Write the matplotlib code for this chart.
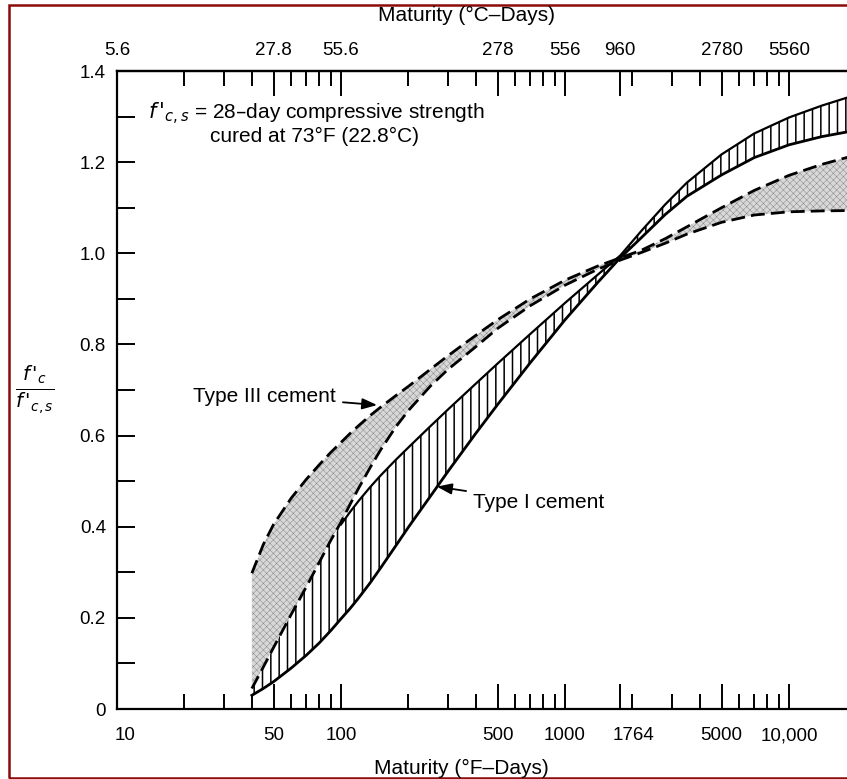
import numpy as np
import matplotlib
matplotlib.use("Agg")
import matplotlib.pyplot as plt
from matplotlib.patches import Rectangle
from matplotlib.ticker import NullFormatter
from matplotlib.transforms import ScaledTranslation

plt.rcParams['font.family'] = ['Liberation Sans', 'DejaVu Sans']
plt.rcParams['mathtext.fontset'] = 'dejavusans'

# ---------------- data ----------------
maturity_f = [40, 45, 50, 60, 70, 80, 90, 100, 110, 120, 135, 150, 175, 200, 250, 300, 400,
              500, 700, 1000, 1400, 1764, 2200, 2800, 3500, 5000, 7000, 10000, 14000, 20000]
# Type III cement band (dashed bounds)
type3_upper = [0.298, 0.361, 0.405, 0.463, 0.504, 0.536, 0.563, 0.585, 0.605, 0.622, 0.644,
               0.662, 0.687, 0.708, 0.745, 0.775, 0.82, 0.854, 0.90, 0.941, 0.972, 0.99,
               1.007, 1.032, 1.058, 1.10, 1.138, 1.171, 1.195, 1.216]
type3_lower = [0.045, 0.092, 0.135, 0.208, 0.268, 0.322, 0.37, 0.41, 0.45, 0.485, 0.53, 0.568,
               0.618, 0.655, 0.708, 0.745, 0.795, 0.835, 0.885, 0.93, 0.965, 0.985, 1.002,
               1.022, 1.042, 1.068, 1.084, 1.091, 1.093, 1.094]
# Type I cement band (hatched)
type1_upper = [0.045, 0.092, 0.135, 0.208, 0.268, 0.322, 0.37, 0.405, 0.433, 0.457, 0.487,
               0.512, 0.546, 0.574, 0.62, 0.657, 0.714, 0.758, 0.823, 0.891, 0.953, 0.995,
               1.05, 1.107, 1.155, 1.217, 1.263, 1.298, 1.324, 1.348]
type1_lower = [0.03, 0.045, 0.06, 0.09, 0.118, 0.145, 0.172, 0.198, 0.221, 0.244, 0.277,
               0.309, 0.357, 0.399, 0.466, 0.521, 0.605, 0.668, 0.76, 0.854, 0.936, 0.99,
               1.035, 1.085, 1.125, 1.172, 1.21, 1.238, 1.256, 1.27]
type1_upper_start = 7   # index where the Type I upper bound leaves the Type III lower bound

f_major = [10, 50, 100, 500, 1000, 1764, 5000, 10000]
f_major_labels = ['10', '50', '100', '500', '1000', '1764', '5000', '10,000']
f_minor = [20, 30, 40, 60, 70, 80, 90, 200, 300, 400, 600, 700, 800, 900,
           2000, 3000, 4000, 6000, 7000, 8000, 9000]
top_major = [10, 50, 100, 500, 1000, 1764, 5000, 10000]
top_labels = ['5.6', '27.8', '55.6', '278', '556', '960', '2780', '5560']
y_major = [0, 0.2, 0.4, 0.6, 0.8, 1.0, 1.2, 1.4]
y_labels = ['0', '0.2', '0.4', '0.6', '0.8', '1.0', '1.2', '1.4']
y_minor = [0.1, 0.3, 0.5, 0.7, 0.9, 1.1, 1.3]

# ---------------- figure ----------------
W, H = 847, 779
fig = plt.figure(figsize=(W / 100, H / 100), dpi=100)
ax = fig.add_axes([117 / W, 70 / H, 730 / W, 638 / H])
ax.set_xscale('log')
xmax = 10 ** (1 + 730 / 224)
ax.set_xlim(10, xmax)
ax.set_ylim(0, 1.4)

x = np.array(maturity_f, dtype=float)
a = np.array(type3_upper)
b = np.array(type3_lower)
c = np.array(type1_upper)
d = np.array(type1_lower)

# Type III stipple band
f3 = ax.fill_between(x, b, a, facecolor='#d8d8d8', edgecolor='#8a8a8a', linewidth=0,
                     hatch='xxxxx', zorder=1)
if hasattr(f3, 'set_hatch_linewidth'):
    f3.set_hatch_linewidth(0.35)
# Type I hatched band
f1 = ax.fill_between(x, d, c, facecolor='white', edgecolor='black', linewidth=0,
                     hatch='||', zorder=2)
if hasattr(f1, 'set_hatch_linewidth'):
    f1.set_hatch_linewidth(1.1)

ax.plot(x, d, color='black', lw=2.0, zorder=4)
ax.plot(x[type1_upper_start:], c[type1_upper_start:], color='black', lw=1.6, zorder=4)
ax.plot(x, a, color='black', lw=2.0, ls=(0, (5, 2.2)), zorder=5)
ax.plot(x, b, color='black', lw=2.0, ls=(0, (5, 2.2)), zorder=5)

# spines
for s in ['left', 'bottom', 'top']:
    ax.spines[s].set_linewidth(1.6)
ax.spines['right'].set_visible(False)

# ticks bottom
ax.set_xticks(f_major)
ax.set_xticklabels(f_major_labels)
ax.set_xticks(f_minor, minor=True)
ax.xaxis.set_minor_formatter(NullFormatter())
ax.tick_params(axis='x', which='major', direction='in', length=18, width=1.4,
               pad=13, labelsize=13.5, top=False)
ax.tick_params(axis='x', which='minor', direction='in', length=10.5, width=1.4, top=False)
# small offsets of some labels as in the original drawing
shift = {'10': 8, '1764': 13}
for lab in ax.get_xticklabels():
    if lab.get_text() in shift:
        lab.set_transform(lab.get_transform() +
                          ScaledTranslation(shift[lab.get_text()] / 100, 0, fig.dpi_scale_trans))
# y ticks
ax.set_yticks(y_major)
ax.set_yticklabels(y_labels)
ax.set_yticks(y_minor, minor=True)
ax.yaxis.set_minor_formatter(NullFormatter())
ax.tick_params(axis='y', which='both', direction='in', length=13, width=1.4,
               pad=8, labelsize=13.5, right=False)

# top axis (°C-days)
ax2 = ax.twiny()
ax2.set_xscale('log')
ax2.set_xlim(10, xmax)
ax2.set_xticks(top_major)
ax2.set_xticklabels(top_labels)
ax2.set_xticks(f_minor, minor=True)
ax2.xaxis.set_minor_formatter(NullFormatter())
ax2.tick_params(axis='x', which='major', direction='in', length=18, width=1.4,
                pad=9, labelsize=13.5)
ax2.tick_params(axis='x', which='minor', direction='in', length=10.5, width=1.4)
for s in ['left', 'bottom', 'right']:
    ax2.spines[s].set_visible(False)
ax2.spines['top'].set_linewidth(1.6)

# labels
fig.text(466 / W, 1 - 15 / H, 'Maturity (°C–Days)', ha='center', va='center', fontsize=15)
fig.text(461 / W, 1 - 768 / H, 'Maturity (°F–Days)', ha='center', va='center', fontsize=15)
fig.text(35 / W, 1 - 390 / H, r"$\frac{f\,'_c}{f\,'_{c,s}}$", ha='center', va='center',
         fontsize=20)

fig.text(148 / W, 1 - 114 / H, r"$f\,'_{c,s}$ = 28–day compressive strength",
         ha='left', va='center', fontsize=15)
fig.text(210 / W, 1 - 136 / H, "cured at 73°F (22.8°C)", ha='left', va='center', fontsize=15)

arrow = dict(arrowstyle='-|>,head_length=0.6,head_width=0.22', color='black', lw=1.3,
             shrinkA=3, shrinkB=0)
ax.annotate('Type III cement', xy=(145, 0.667), xycoords='data',
            xytext=(336, H - 396), textcoords='figure pixels',
            ha='right', va='center', fontsize=15, arrowprops=arrow)
ax.annotate('Type I cement', xy=(268, 0.488), xycoords='data',
            xytext=(473, H - 502), textcoords='figure pixels',
            ha='left', va='center', fontsize=15, arrowprops=arrow)

# frame border
fig.patches.append(Rectangle((9 / W, 1.5 / H), 1.2, (H - 6.5) / H, transform=fig.transFigure,
                             fill=False, edgecolor='#8b0a0a', linewidth=1.8))

fig.savefig('out.png', dpi=100)
